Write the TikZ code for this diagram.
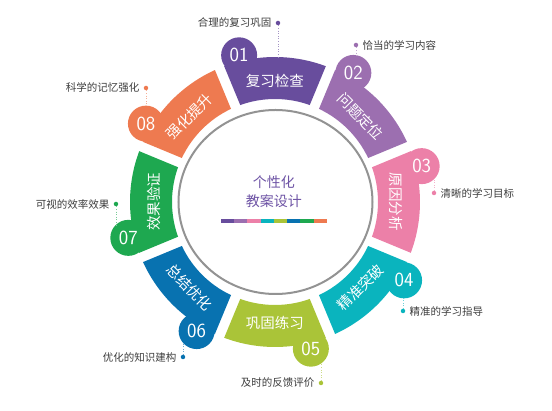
\documentclass[tikz,border=0pt]{standalone}
\usepackage{fontspec}
\setmainfont{Noto Sans CJK SC}
\usepackage{tikz}
\usetikzlibrary{positioning}
\definecolor{stepone}{RGB}{104,77,157}
\definecolor{steptwo}{RGB}{156,111,176}
\definecolor{stepthree}{RGB}{236,128,168}
\definecolor{stepfour}{RGB}{10,180,190}
\definecolor{stepfive}{RGB}{170,196,56}
\definecolor{stepsix}{RGB}{8,114,176}
\definecolor{stepseven}{RGB}{30,168,80}
\definecolor{stepeight}{RGB}{238,122,80}
\definecolor{centerpurple}{RGB}{110,84,165}
\definecolor{labelgray}{RGB}{60,60,60}
\newcommand{\ringin}{103}
\newcommand{\ringout}{145}
\newcommand{\tabpos}{151}
% #1 step, #2 middle angle, #3 colour, #4 title rotation, #5 title
\newcommand{\ringpart}[5]{
  \fill[#3] ({#2-19.72}:\ringin) arc[start angle={#2-19.72}, end angle={#2+19.72}, radius=\ringin]
    -- ({#2+20.52}:\ringout) arc[start angle={#2+20.52}, end angle={#2-20.52}, radius=\ringout] -- cycle;
  \fill[#3] ({#2+13.74}:\tabpos) circle[radius=18];
  \node[parttitle,rotate=#4] (s#1) at (#2:121) {#5};
  \node[partnum] (n#1) at ({#2+13.74}:\tabpos) {0#1};
}
\tikzset{
  parttitle/.style={text=white,inner sep=0pt,font=\fontsize{14.5}{16}\selectfont},
  partnum/.style={text=white,inner sep=0pt,font=\sffamily\fontsize{20}{20}\selectfont},
  dotmark/.style={circle,inner sep=0pt,minimum size=4.5pt},
  sidelabel/.style={text=labelgray,inner sep=0pt,font=\fontsize{10.5}{12}\selectfont},
  leader/.style={dotted,line width=0.6pt},
}
\begin{document}
\begin{tikzpicture}[x=1pt,y=1pt]
  \useasboundingbox (-275,-209) rectangle (277,202);

  % ring
  \ringpart{1}{90}{stepone}{0}{复习检查}
  \ringpart{2}{45}{steptwo}{-45}{问题定位}
  \ringpart{3}{0}{stepthree}{-90}{原因分析}
  \ringpart{4}{-45}{stepfour}{45}{精准突破}
  \ringpart{5}{-90}{stepfive}{0}{巩固练习}
  \ringpart{6}{-135}{stepsix}{-45}{总结优化}
  \ringpart{7}{180}{stepseven}{90}{效果验证}
  \ringpart{8}{135}{stepeight}{45}{强化提升}

  % middle
  \draw[gray!85,line width=2pt] (0.5,0) ellipse[x radius=97, y radius=92];
  \node[text=centerpurple,align=center,font=\fontsize{14}{19}\selectfont] (title) at (-1,10) {个性化\\教案设计};
  \foreach \c [count=\i] in {stepone,steptwo,stepthree,stepfour,stepfive,stepsix,stepseven,stepeight}
    \fill[\c] ({-54+(\i-1)*13.25},-21) rectangle +(13.25,4);

  % side labels
  \node[dotmark,fill=stepone] (d1) at (3,179) {};
  \node[sidelabel,left=4pt of d1] (l1) {合理的复习巩固};
  \node[dotmark,fill=steptwo] (d2) at (81,157) {};
  \node[sidelabel,right=4pt of d2] (l2) {恰当的学习内容};
  \node[dotmark,fill=stepthree] (d3) at (159,9) {};
  \node[sidelabel,right=4pt of d3] (l3) {清晰的学习目标};
  \node[dotmark,fill=stepfour] (d4) at (128,-109) {};
  \node[sidelabel,right=4pt of d4] (l4) {精准的学习指导};
  \node[dotmark,fill=stepfive] (d5) at (46,-181) {};
  \node[sidelabel,left=4pt of d5] (l5) {及时的反馈评价};
  \node[dotmark,fill=stepsix] (d6) at (-92,-155) {};
  \node[sidelabel,left=4pt of d6] (l6) {优化的知识建构};
  \node[dotmark,fill=stepseven] (d7) at (-159,-2) {};
  \node[sidelabel,left=4pt of d7] (l7) {可视的效率效果};
  \node[dotmark,fill=stepeight] (d8) at (-129,114) {};
  \node[sidelabel,left=4pt of d8] (l8) {科学的记忆强化};

  \coordinate (t1) at (3,144);
  \coordinate (t2) at (81,146);
  \coordinate (t3) at (159,23);
  \coordinate (t4) at (128,-96);
  \coordinate (t5) at (46,-161);
  \coordinate (t6) at (-92,-141);
  \coordinate (t7) at (-159,-23);
  \coordinate (t8) at (-129,96);
  \draw[leader,draw=stepone!60] (d1) -- (t1);
  \draw[leader,draw=steptwo!60] (d2) -- (t2);
  \draw[leader,draw=stepthree!60] (d3) -- (t3);
  \draw[leader,draw=stepfour!60] (d4) -- (t4);
  \draw[leader,draw=stepfive!60] (d5) -- (t5);
  \draw[leader,draw=stepsix!60] (d6) -- (t6);
  \draw[leader,draw=stepseven!60] (d7) -- (t7);
  \draw[leader,draw=stepeight!60] (d8) -- (t8);
\end{tikzpicture}
\end{document}
